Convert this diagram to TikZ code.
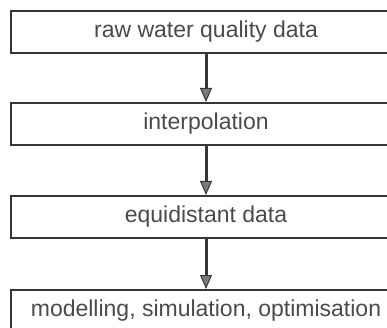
\documentclass[tikz,border=0pt]{standalone}
\usepackage{fontspec}
\setmainfont{Liberation Sans}
\usetikzlibrary{arrows.meta}
\definecolor{linegray}{HTML}{363636}
\definecolor{textgray}{HTML}{4A4A4A}
\definecolor{headgray}{HTML}{7A7A7A}
\begin{document}
\begin{tikzpicture}[x=1pt,y=-1pt,
  box/.style={draw=linegray, line width=2pt, minimum width=391pt, minimum height=42pt,
    inner sep=0pt, font=\fontsize{23}{27}\selectfont, text=textgray, anchor=north west},
  flow/.style={draw=linegray, line width=3pt,
    -{Triangle[width=12pt,length=14pt,fill=headgray,line width=1pt]}}]
\useasboundingbox (0,0) rectangle (387,328);
\clip (0,0) rectangle (387,328);
\node[box] (b1) at (9.5,10) {raw water quality data};
\node[box] (b2) at (9.5,102) {interpolation};
\node[box] (b3) at (9.5,195) {equidistant data};
\node[box] (b4) at (9.5,289) {modelling, simulation, optimisation};
\draw[flow] (b1.south) -- (b2.north);
\draw[flow] (b2.south) -- (b3.north);
\draw[flow] (b3.south) -- (b4.north);
\end{tikzpicture}
\end{document}
